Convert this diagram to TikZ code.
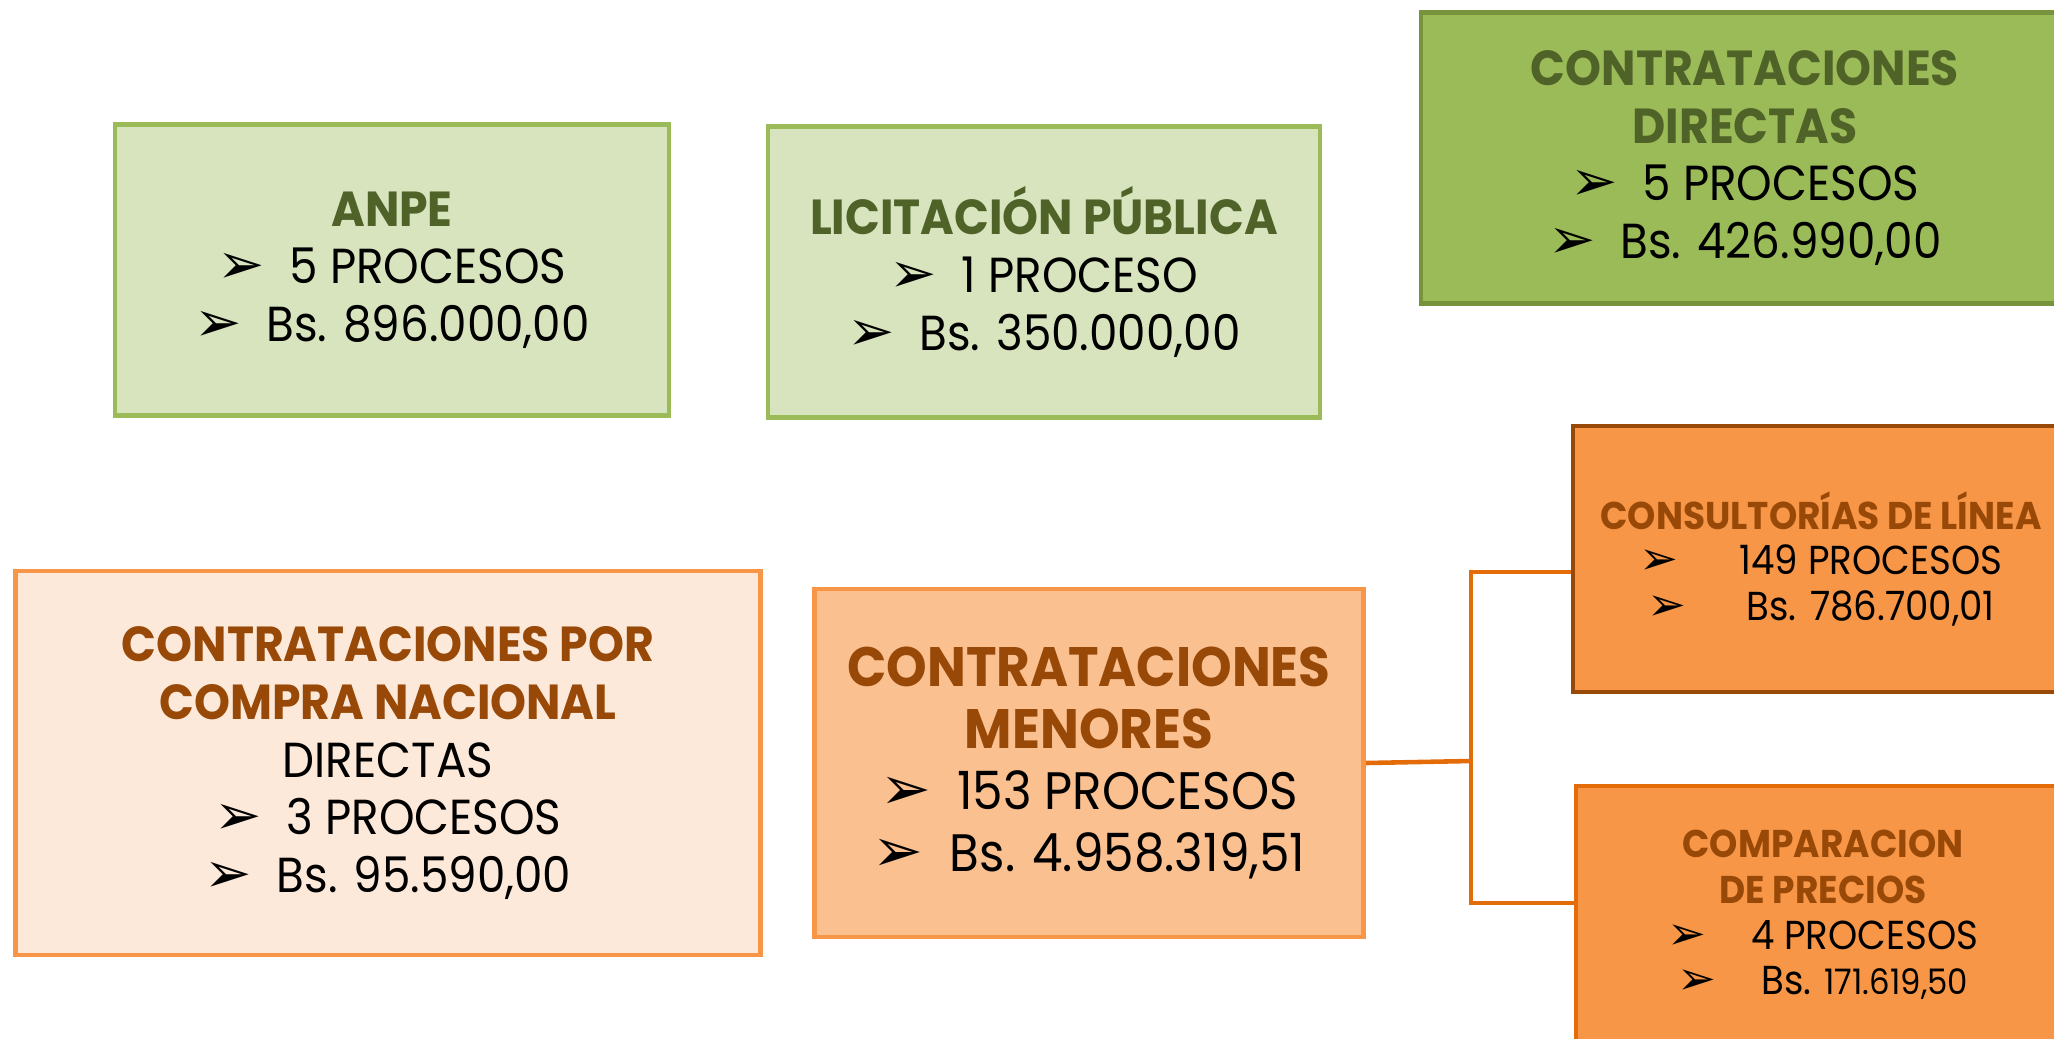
\documentclass[tikz,border=0pt]{standalone}
\usepackage{fontspec}
\setmainfont[FakeStretch=0.92]{Poppins}
\newfontfamily\headfont[FakeStretch=0.93]{Poppins}
\newfontfamily\arrowfont{DejaVu Sans}
\definecolor{lightgreen}{HTML}{D7E4BD}
\definecolor{midgreen}{HTML}{9BBB59}
\definecolor{edgegreen}{HTML}{77933C}
\definecolor{darkgreen}{HTML}{4F6228}
\definecolor{paleorange}{HTML}{FDE9DA}
\definecolor{softorange}{HTML}{FAC090}
\definecolor{midorange}{HTML}{F79646}
\definecolor{deeporange}{HTML}{E36C09}
\definecolor{brownorange}{HTML}{984807}
\newcommand\bul{\scalebox{1.15}{\arrowfont ➢}\hspace{0.5em}}
\newcommand\gtitle[1]{{\headfont\bfseries\color{darkgreen}#1}}
\newcommand\otitle[1]{{\headfont\bfseries\color{brownorange}#1}}

\begin{document}
\begin{tikzpicture}[
  box/.style={draw, line width=1.4pt, align=center, inner sep=0pt,
    font=\fontsize{14}{16.4}\selectfont},
  greenbox/.style={box, draw=midgreen, fill=lightgreen},
  darkbox/.style={box, draw=edgegreen, fill=midgreen},
  paleobox/.style={box, draw=midorange, fill=paleorange},
  softobox/.style={box, draw=midorange, fill=softorange,
    font=\fontsize{15}{17.5}\selectfont},
  smallbox/.style={box, fill=midorange, font=\fontsize{11.5}{13}\selectfont},
  link/.style={draw=deeporange, line width=1.3pt}]
  \clip (0,0) rectangle (20.54,-10.38);

  % top row
  \node[greenbox, minimum width=5.54cm, minimum height=2.91cm] (anpe) at (3.92,-2.70)
    {\gtitle{ANPE}\\ \bul 5 PROCESOS\\ \bul Bs. 896.000,00};
  \node[greenbox, minimum width=5.52cm, minimum height=2.91cm] (licit) at (10.44,-2.72)
    {\gtitle{LICITACIÓN PÚBLICA}\\ \bul 1 PROCESO\\ \bul Bs. 350.000,00};
  \node[darkbox, minimum width=6.48cm, minimum height=2.91cm] (direct) at (17.45,-1.58)
    {\gtitle{CONTRATACIONES}\\ \gtitle{DIRECTAS}\\ \bul 5 PROCESOS\\ \bul Bs. 426.990,00};

  % bottom row
  \node[paleobox, minimum width=7.45cm, minimum height=3.84cm] (compra) at (3.88,-7.63)
    {\otitle{CONTRATACIONES POR}\\ \otitle{COMPRA NACIONAL}\\ DIRECTAS\\
     \bul 3 PROCESOS\\ \bul Bs. 95.590,00};
  \node[softobox, minimum width=5.49cm, minimum height=3.48cm] (menores) at (10.89,-7.63)
    {\otitle{\fontsize{15.8}{18.5}\selectfont CONTRATACIONES}\\
     \otitle{\fontsize{15.8}{18.5}\selectfont MENORES}\\ \bul 153 PROCESOS\\ \bul Bs. 4.958.319,51};

  % sub-types of contrataciones menores
  \node[smallbox, draw=brownorange, minimum width=4.96cm, minimum height=2.66cm] (consult) at (18.21,-5.59)
    {\otitle{\fontsize{11}{13}\selectfont CONSULTORÍAS DE LÍNEA}\\
     \bul\hspace{1em}149 PROCESOS\\ \bul\hspace{1em}Bs. 786.700,01};
  \node[smallbox, draw=deeporange, minimum width=4.94cm, minimum height=2.58cm] (precios) at (18.23,-9.15)
    {\otitle{\fontsize{11}{13}\selectfont COMPARACION}\\ \otitle{\fontsize{11}{13}\selectfont DE PRECIOS}\\
     \bul\hspace{0.6em}4 PROCESOS\\
     \bul\hspace{0.6em}Bs. {\fontsize{10}{13}\selectfont 171.619,50}};

  \coordinate (fork) at (14.71,-7.61);
  \draw[link] (menores.east) -- (fork);
  \draw[link] (fork) |- ([yshift=-1.3mm]consult.west);
  \draw[link] (fork) |- ([yshift=1.2mm]precios.west);
\end{tikzpicture}
\end{document}
